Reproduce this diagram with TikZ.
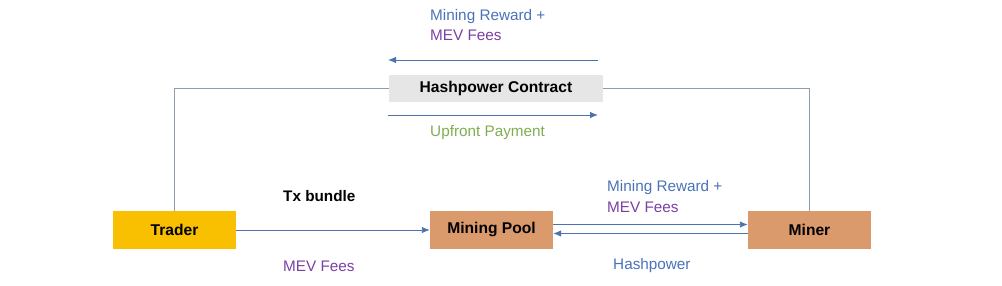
\documentclass[tikz,border=0pt]{standalone}
\usepackage{fontspec}
\setmainfont{Liberation Sans}
\usetikzlibrary{arrows.meta}
\definecolor{trcol}{HTML}{F8C000}
\definecolor{tancol}{HTML}{DB9A6C}
\definecolor{graybox}{HTML}{E6E6E6}
\definecolor{txtblue}{HTML}{4A72B8}
\definecolor{txtpurple}{HTML}{7A3FA3}
\definecolor{txtgreen}{HTML}{7FAE52}
\definecolor{arrblue}{HTML}{4E72AC}
\definecolor{linegray}{HTML}{8E9CB2}
\tikzset{
  box/.style={minimum width=123pt, minimum height=38pt, inner sep=0pt, font=\fontsize{15.6}{18}\selectfont\bfseries},
  lbl/.style={anchor=west, inner sep=0pt, font=\fontsize{15.3}{18}\selectfont, align=left},
  arr/.style={draw=arrblue, line width=0.9pt, -{Latex[length=8pt,width=6.5pt]}},
  conn/.style={draw=linegray, line width=0.9pt}
}
\begin{document}
\begin{tikzpicture}[x=1pt,y=-1pt]
\useasboundingbox (0,0) rectangle (1002,286);
\node[box, fill=trcol] (trader) at (174.5,230) {Trader};
\node[box, fill=tancol] (pool) at (491.5,230) {Mining Pool};
\node[box, fill=tancol] (miner) at (809.5,230) {Miner};
\node[box, fill=graybox, minimum width=214pt, minimum height=27pt] (contract) at (496,88.5) {Hashpower Contract};
\draw[conn] (trader.north) |- (contract.west);
\draw[conn] (contract.east) -| (miner.north);
\coordinate (ta1) at (598,60);
\coordinate (ta2) at (388,60);
\coordinate (ba1) at (388,115);
\coordinate (ba2) at (598,115);
\draw[arr] (ta1) -- (ta2);
\draw[arr] (ba1) -- (ba2);
\draw[arr] (trader.east) -- (pool.west);
\draw[arr] ([yshift=5.5pt]pool.east) -- ([yshift=5.5pt]miner.west);
\draw[arr] ([yshift=-3.5pt]miner.west) -- ([yshift=-3.5pt]pool.east);
\node[lbl, text=txtblue] (mr1) at (430,17) {Mining Reward +};
\node[lbl, text=txtpurple] (mf1) at (430,35) {MEV Fees};
\node[lbl, text=txtgreen] (up) at (430,133) {Upfront Payment};
\node[lbl, font=\fontsize{15.3}{18}\selectfont\bfseries] (tx) at (283,196) {Tx bundle};
\node[lbl, text=txtpurple] (mf2) at (283,266) {MEV Fees};
\node[lbl, text=txtblue] (mr2) at (607,188) {Mining Reward +};
\node[lbl, text=txtpurple] (mf3) at (607,207) {MEV Fees};
\node[lbl, text=txtblue] (hp) at (613,266) {Hashpower};
\end{tikzpicture}
\end{document}
